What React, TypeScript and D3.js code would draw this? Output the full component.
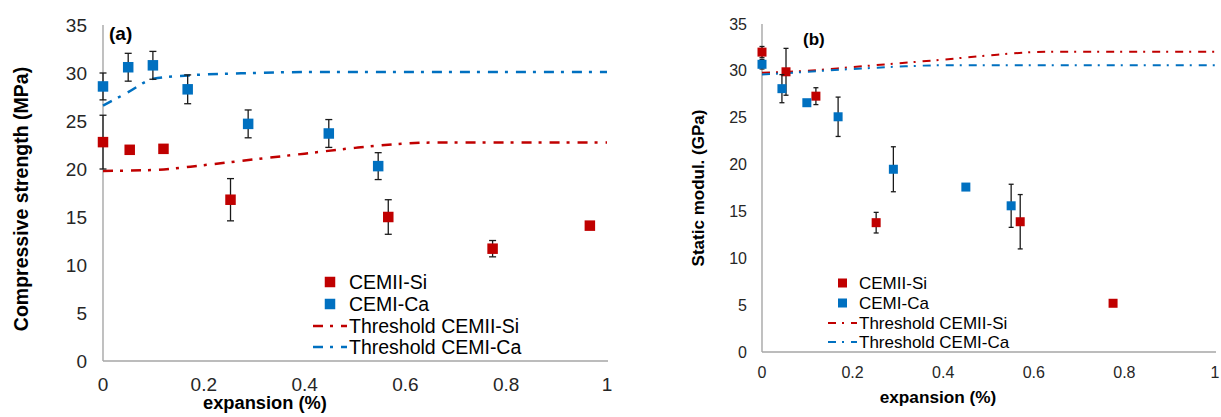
import React from "react";
import * as d3 from "d3";

// ---------- data ----------
const xTickValues = [0, 0.2, 0.4, 0.6, 0.8, 1];
const yTickValues = [0, 5, 10, 15, 20, 25, 30, 35];

// (a) compressive strength (MPa): x = expansion (%), y = value, e = error half-width
const strengthSi = [
  { x: 0, y: 22.8, e: 2.8 },
  { x: 0.053, y: 22.0, e: 0.3 },
  { x: 0.12, y: 22.1, e: 0.3 },
  { x: 0.253, y: 16.8, e: 2.2 },
  { x: 0.566, y: 15.0, e: 1.8 },
  { x: 0.773, y: 11.7, e: 0.85 },
  { x: 0.966, y: 14.1, e: 0 },
];
const strengthCa = [
  { x: 0, y: 28.6, e: 1.4 },
  { x: 0.05, y: 30.6, e: 1.45 },
  { x: 0.099, y: 30.8, e: 1.45 },
  { x: 0.168, y: 28.3, e: 1.5 },
  { x: 0.288, y: 24.7, e: 1.45 },
  { x: 0.448, y: 23.7, e: 1.45 },
  { x: 0.546, y: 20.3, e: 1.4 },
];
const strengthThresholdSi = [
  [0, 19.8], [0.1, 19.9], [0.2, 20.4], [0.3, 21.0], [0.4, 21.6],
  [0.5, 22.2], [0.6, 22.65], [0.65, 22.75], [1, 22.75],
];
const strengthThresholdCa = [
  [0, 26.6], [0.05, 28.0], [0.1, 29.4], [0.17, 29.75], [0.3, 30.0],
  [0.4, 30.1], [1, 30.1],
];

// (b) static modulus (GPa)
const modulusSi = [
  { x: 0, y: 32.0, e: 0.6 },
  { x: 0.053, y: 29.9, e: 2.5 },
  { x: 0.119, y: 27.3, e: 0.9 },
  { x: 0.252, y: 13.8, e: 1.1 },
  { x: 0.57, y: 13.9, e: 2.9 },
  { x: 0.775, y: 5.2, e: 0 },
];
const modulusCa = [
  { x: 0, y: 30.7, e: 0.5 },
  { x: 0.044, y: 28.1, e: 1.5 },
  { x: 0.099, y: 26.6, e: 0 },
  { x: 0.168, y: 25.1, e: 2.1 },
  { x: 0.29, y: 19.5, e: 2.4 },
  { x: 0.45, y: 17.6, e: 0 },
  { x: 0.55, y: 15.6, e: 2.3 },
];
const modulusThresholdSi = [
  [0, 29.8], [0.1, 30.0], [0.2, 30.4], [0.3, 30.8], [0.4, 31.2],
  [0.5, 31.65], [0.6, 32.0], [0.65, 32.05], [1, 32.05],
];
const modulusThresholdCa = [
  [0, 29.6], [0.1, 29.9], [0.2, 30.2], [0.3, 30.45], [0.4, 30.6], [1, 30.6],
];

const legendLabels = ["CEMII-Si", "CEMI-Ca", "Threshold CEMII-Si", "Threshold CEMI-Ca"];

const RED = "#c00000";
const BLUE = "#0070c0";
const AXIS = "#a6a6a6";
const FONT = "'Liberation Sans', Arial, Helvetica, sans-serif";

type Pt = { x: number; y: number; e: number };

type PanelProps = {
  x0: number; x1: number; y0: number; y1: number;
  si: Pt[]; ca: Pt[]; thSi: number[][]; thCa: number[][];
  tickFont: number; tickLabelY: number; yTickRight: number;
  xTitle: string; xTitleX: number; xTitleY: number; xTitleFont: number;
  yTitle: string; yTitleX: number; yTitleY: number; yTitleFont: number;
  tag: string; tagX: number; tagY: number; tagFont: number;
  marker: number; cap: number; lineW: number; dash: string;
  legX: number; legY: number[]; legFont: number; legLineX0: number; legLineX1: number;
};

function Panel(p: PanelProps) {
  const x = d3.scaleLinear().domain([0, 1]).range([p.x0, p.x1]);
  const y = d3.scaleLinear().domain([0, 35]).range([p.y0, p.y1]);
  const line = d3
    .line<number[]>()
    .x((d) => x(d[0]))
    .y((d) => y(d[1]))
    .curve(d3.curveMonotoneX);

  const points = (data: Pt[], color: string) =>
    data.map((d, i) => (
      <g key={color + i}>
        {d.e > 0 && (
          <g stroke="#1a1a1a" strokeWidth={1.3}>
            <line x1={x(d.x)} x2={x(d.x)} y1={y(d.y - d.e)} y2={y(d.y + d.e)} />
            <line x1={x(d.x) - p.cap / 2} x2={x(d.x) + p.cap / 2} y1={y(d.y + d.e)} y2={y(d.y + d.e)} />
            <line x1={x(d.x) - p.cap / 2} x2={x(d.x) + p.cap / 2} y1={y(d.y - d.e)} y2={y(d.y - d.e)} />
          </g>
        )}
        <rect
          x={x(d.x) - p.marker / 2}
          y={y(d.y) - p.marker / 2}
          width={p.marker}
          height={p.marker}
          fill={color}
        />
      </g>
    ));

  return (
    <g fontFamily={FONT}>
      {/* axes */}
      <line x1={p.x0} x2={p.x0} y1={p.y1} y2={p.y0} stroke={AXIS} strokeWidth={1.4} />
      <line x1={p.x0} x2={p.x1 + 1} y1={p.y0} y2={p.y0} stroke={AXIS} strokeWidth={1.4} />
      {yTickValues.map((t) => (
        <text key={"y" + t} x={p.yTickRight} y={y(t)} dy="0.35em" textAnchor="end" fontSize={p.tickFont} fill="#262626">
          {t}
        </text>
      ))}
      {xTickValues.map((t) => (
        <text key={"x" + t} x={x(t)} y={p.tickLabelY} dy="0.35em" textAnchor="middle" fontSize={p.tickFont} fill="#262626">
          {t}
        </text>
      ))}
      <text x={p.xTitleX} y={p.xTitleY} dy="0.35em" textAnchor="middle" fontWeight="bold" fontSize={p.xTitleFont} fill="#000">
        {p.xTitle}
      </text>
      <text
        transform={`translate(${p.yTitleX},${p.yTitleY}) rotate(-90)`}
        dy="0.35em"
        textAnchor="middle"
        fontWeight="bold"
        fontSize={p.yTitleFont}
        fill="#000"
      >
        {p.yTitle}
      </text>
      <text x={p.tagX} y={p.tagY} dy="0.35em" fontWeight="bold" fontSize={p.tagFont} fill="#000">
        {p.tag}
      </text>

      {/* thresholds */}
      <path d={line(p.thSi) || ""} fill="none" stroke={RED} strokeWidth={p.lineW} strokeDasharray={p.dash} />
      <path d={line(p.thCa) || ""} fill="none" stroke={BLUE} strokeWidth={p.lineW} strokeDasharray={p.dash} />

      {/* points */}
      {points(p.si, RED)}
      {points(p.ca, BLUE)}

      {/* legend */}
      <rect x={(p.legLineX0 + p.legLineX1) / 2 - p.marker / 2} y={p.legY[0] - p.marker / 2} width={p.marker} height={p.marker} fill={RED} />
      <rect x={(p.legLineX0 + p.legLineX1) / 2 - p.marker / 2} y={p.legY[1] - p.marker / 2} width={p.marker} height={p.marker} fill={BLUE} />
      <line x1={p.legLineX0} x2={p.legLineX1} y1={p.legY[2]} y2={p.legY[2]} stroke={RED} strokeWidth={p.lineW} strokeDasharray={p.dash} />
      <line x1={p.legLineX0} x2={p.legLineX1} y1={p.legY[3]} y2={p.legY[3]} stroke={BLUE} strokeWidth={p.lineW} strokeDasharray={p.dash} />
      {legendLabels.map((l, i) => (
        <text key={l} x={p.legX} y={p.legY[i]} dy="0.35em" fontSize={p.legFont} fill="#000">
          {l}
        </text>
      ))}
    </g>
  );
}

export default function App() {
  return (
    <svg
      width={1221}
      height={417}
      style={{ position: "absolute", left: 0, top: 0, background: "#fff" }}
    >
      <rect width={1221} height={417} fill="#fff" />
      <Panel
        x0={103} x1={607} y0={361} y1={25}
        si={strengthSi} ca={strengthCa} thSi={strengthThresholdSi} thCa={strengthThresholdCa}
        tickFont={19} tickLabelY={384} yTickRight={87}
        xTitle="expansion (%)" xTitleX={265} xTitleY={403} xTitleFont={18.3}
        yTitle="Compressive strength (MPa)" yTitleX={21} yTitleY={199} yTitleFont={19.5}
        tag="(a)" tagX={109} tagY={33} tagFont={19}
        marker={10.5} cap={7} lineW={2.5} dash="10 7 3 8"
        legX={349} legY={[282, 304, 326, 347]} legFont={19.5} legLineX0={313} legLineX1={347}
      />
      <Panel
        x0={762} x1={1215} y0={352} y1={24}
        si={modulusSi} ca={modulusCa} thSi={modulusThresholdSi} thCa={modulusThresholdCa}
        tickFont={16} tickLabelY={372} yTickRight={747}
        xTitle="expansion (%)" xTitleX={938} xTitleY={397} xTitleFont={17.2}
        yTitle="Static modul. (GPa)" yTitleX={698} yTitleY={188} yTitleFont={17}
        tag="(b)" tagX={803} tagY={39} tagFont={17}
        marker={9} cap={5} lineW={2} dash="8 6 2 7"
        legX={859} legY={[283, 303, 323, 342]} legFont={17} legLineX0={828} legLineX1={857}
      />
    </svg>
  );
}
